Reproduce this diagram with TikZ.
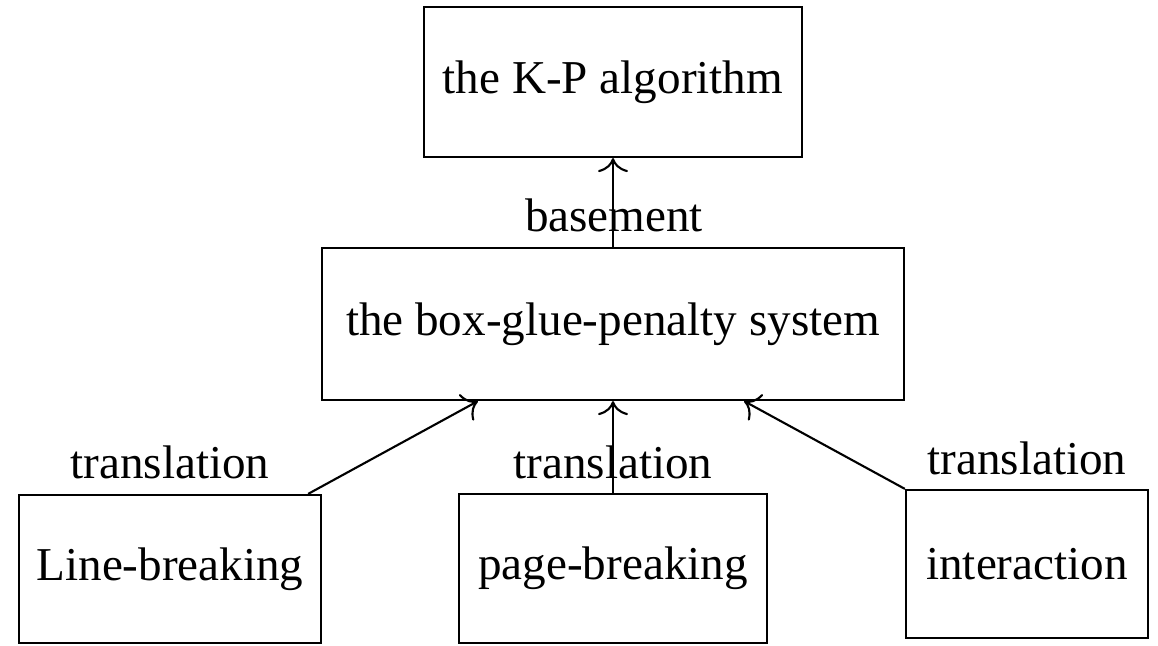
\documentclass[tikz,border=0pt]{standalone}
\usepackage{fontspec}
\setmainfont{Liberation Serif}
\usetikzlibrary{arrows.meta,calc}
\begin{document}
\begin{tikzpicture}[x=0.01cm,y=-0.01cm,
  box/.style={draw,line width=0.6pt,inner sep=0pt,font=\fontsize{13.4}{16}\selectfont},
  lbl/.style={inner sep=0pt,font=\fontsize{13.4}{16}\selectfont},
  arr/.style={line width=0.6pt,-{To[length=1.4mm,width=3mm]}}]
\useasboundingbox (0,0) rectangle (1158,646);
\node[box,minimum width=3.78cm,minimum height=1.50cm] (top) at (613,82) {the K-P algorithm};
\node[box,minimum width=5.82cm,minimum height=1.52cm] (mid) at (613,324) {the box-glue-penalty system};
\node[box,minimum width=3.02cm,minimum height=1.48cm] (L) at (170,569) {Line-breaking};
\node[box,minimum width=3.08cm,minimum height=1.49cm] (M) at (613,568.5) {page-breaking};
\node[box,minimum width=2.42cm,minimum height=1.48cm] (R) at (1027,564) {interaction};
\node[lbl] (lb) at (614,215) {basement};
\node[lbl] (lL) at (170,462) {translation};
\node[lbl] (lM) at (613,462) {translation};
\node[lbl] (lR) at (1027,458) {translation};
\draw[arr] (mid.north) -- (top.south);
\draw[arr] ([xshift=-0.14cm]L.north east) -- ([xshift=-1.35cm]mid.south);
\draw[arr] (M.north) -- (mid.south);
\draw[arr] (R.north west) -- ([xshift=1.31cm]mid.south);
\end{tikzpicture}
\end{document}
